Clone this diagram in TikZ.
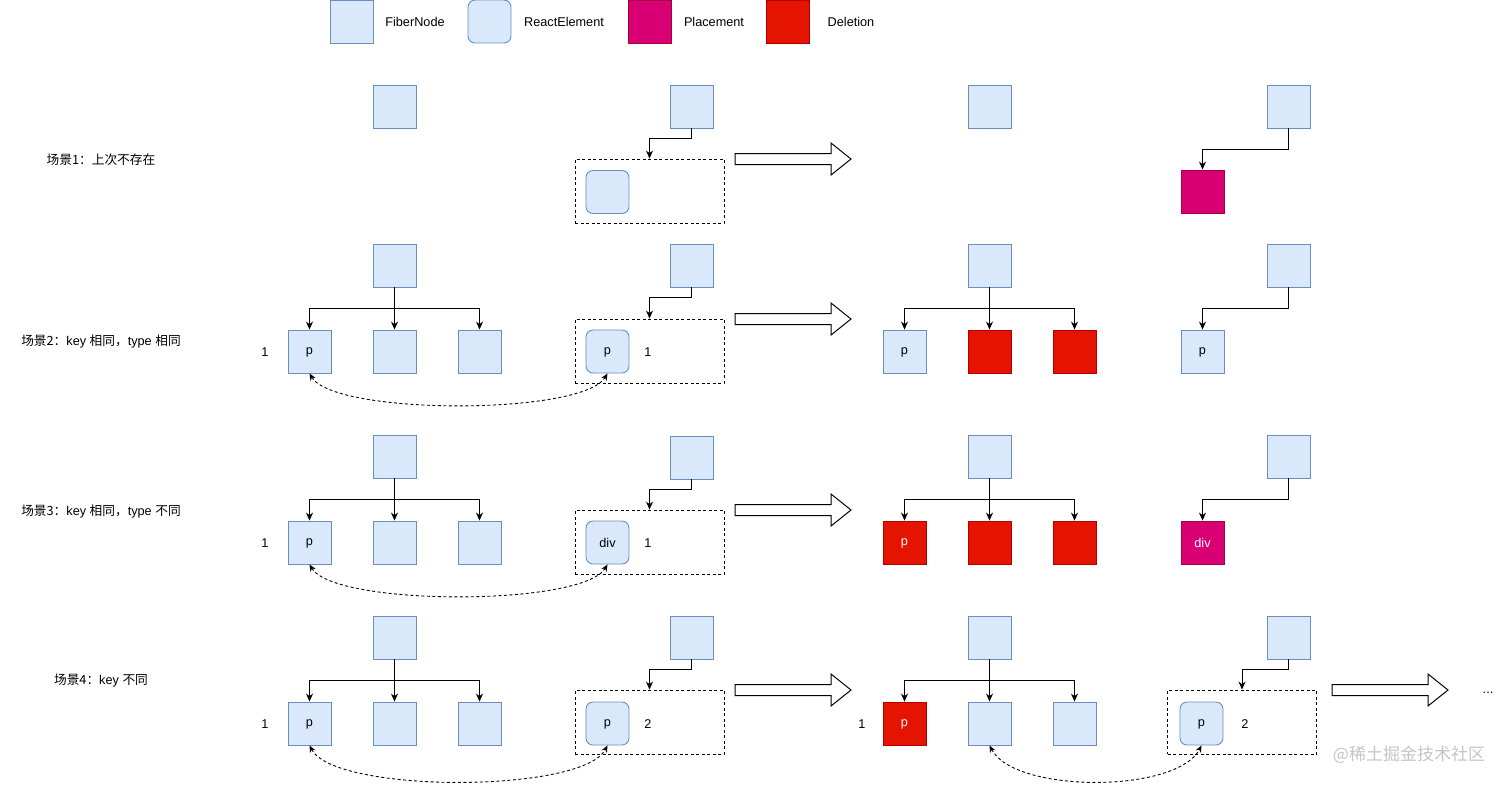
\documentclass[tikz,border=0pt]{standalone}
\usepackage{fontspec}
\setmainfont{Liberation Sans}
\newfontfamily\cjk{Noto Sans CJK SC}
\usetikzlibrary{arrows.meta}
\definecolor{fibfill}{HTML}{DAE8FC}
\definecolor{fibdraw}{HTML}{6C8EBF}
\definecolor{plfill}{HTML}{D80073}
\definecolor{pldraw}{HTML}{A50040}
\definecolor{delfill}{HTML}{E51400}
\definecolor{deldraw}{HTML}{B20000}
\definecolor{wmark}{HTML}{C4C4C4}
\tikzset{
  every node/.style={font=\fontsize{12.7}{15}\selectfont, inner sep=0pt},
  fiber/.style={draw=fibdraw, fill=fibfill, minimum width=43, minimum height=43, line width=0.9, text depth=0pt},
  relem/.style={fiber, rounded corners=7},
  place/.style={fiber, draw=pldraw, fill=plfill, text=white},
  del/.style={fiber, draw=deldraw, fill=delfill, text=white},
  dbox/.style={draw, dash pattern=on 3pt off 2.5pt, line width=0.9, minimum width=149, minimum height=64},
  conn/.style={-{Stealth[length=8,width=7]}, line width=1},
  darrow/.style={{Stealth[length=7,width=6]}-{Stealth[length=7,width=6]}, dash pattern=on 3pt off 2.5pt, line width=0.9},
  bigarrow/.style={draw, line width=1, fill=white},
  lbl/.style={anchor=center}
}
\newcommand{\bigarr}[2]{%
  \draw[bigarrow] (#1,#2-5.5) -- (#1+96,#2-5.5) -- (#1+96,#2-16) -- (#1+116,#2) -- (#1+96,#2+16) -- (#1+96,#2+5.5) -- (#1,#2+5.5) -- cycle;}
\begin{document}
\begin{tikzpicture}[x=1pt,y=-1pt]
\useasboundingbox (0,0) rectangle (1512,788);
% legend
\node[fiber] (lgf) at (351.5,21.5) {};
\node[lbl] (lgft) at (415,22) {FiberNode};
\node[relem] (lgr) at (489.5,21.5) {};
\node[lbl] (lgrt) at (564,22) {ReactElement};
\node[place] (lgp) at (649.5,21.5) {};
\node[lbl] (lgpt) at (714,22) {Placement};
\node[del] (lgd) at (787.5,21.5) {};
\node[lbl] (lgdt) at (851,22) {Deletion};

% ===== scene 1 =====
\node[lbl] (l1) at (101,160) {{\cjk 场景1：上次不存在}};
\node[fiber] (s1a) at (394.5,106.5) {};
\node[fiber] (s1b) at (691.5,106.5) {};
\node[dbox] (s1box) at (649.5,191) {};
\node[relem] (s1re) at (607.5,192) {};
\draw[conn] (s1b.south) -- ++(0,10) -| (s1box.north);
\bigarr{735}{159}
\node[fiber] (r1a) at (989.5,106.5) {};
\node[fiber] (r1b) at (1288.5,106.5) {};
\node[place] (r1c) at (1202.5,191.5) {};
\draw[conn] (r1b.south) -- ++(0,21.5) -| (r1c.north);

% ===== scene 2 =====
\node[lbl] (l2) at (101,341) {{\cjk 场景2：}key {\cjk 相同，}type {\cjk 相同}};
\node[fiber] (s2a) at (394.5,265.5) {};
\node[fiber] (s2c1) at (309.5,351.5) {p};
\node[fiber] (s2c2) at (394.5,351.5) {};
\node[fiber] (s2c3) at (479.5,351.5) {};
\node[lbl] (s2k) at (265,352) {1};
\draw[conn] (s2a.south) -- (s2c2.north);
\draw[conn] (s2a.south) -- ++(0,21.5) -| (s2c1.north);
\draw[conn] (s2a.south) -- ++(0,21.5) -| (s2c3.north);
\node[fiber] (s2b) at (691.5,265.5) {};
\node[dbox] (s2box) at (649.5,351) {};
\node[relem] (s2re) at (607.5,351.5) {p};
\node[lbl] (s2rk) at (648,352) {1};
\draw[conn] (s2b.south) -- ++(0,10) -| (s2box.north);
\draw[darrow] (s2c1.south) .. controls +(25,42) and +(-25,42) .. (s2re.south);
\bigarr{735}{319}
\node[fiber] (r2a) at (989.5,265.5) {};
\node[fiber] (r2c1) at (904.5,351.5) {p};
\node[del] (r2c2) at (989.5,351.5) {};
\node[del] (r2c3) at (1074.5,351.5) {};
\draw[conn] (r2a.south) -- (r2c2.north);
\draw[conn] (r2a.south) -- ++(0,21.5) -| (r2c1.north);
\draw[conn] (r2a.south) -- ++(0,21.5) -| (r2c3.north);
\node[fiber] (r2b) at (1288.5,265.5) {};
\node[fiber] (r2c) at (1202.5,351.5) {p};
\draw[conn] (r2b.south) -- ++(0,21.5) -| (r2c.north);

% ===== scene 3 =====
\node[lbl] (l3) at (101,511) {{\cjk 场景3：}key {\cjk 相同，}type {\cjk 不同}};
\node[fiber] (s3a) at (394.5,456.5) {};
\node[fiber] (s3c1) at (309.5,542.5) {p};
\node[fiber] (s3c2) at (394.5,542.5) {};
\node[fiber] (s3c3) at (479.5,542.5) {};
\node[lbl] (s3k) at (265,543) {1};
\draw[conn] (s3a.south) -- (s3c2.north);
\draw[conn] (s3a.south) -- ++(0,21.5) -| (s3c1.north);
\draw[conn] (s3a.south) -- ++(0,21.5) -| (s3c3.north);
\node[fiber] (s3b) at (691.5,457.5) {};
\node[dbox] (s3box) at (649.5,542) {};
\node[relem] (s3re) at (607.5,542.5) {div};
\node[lbl] (s3rk) at (648,543) {1};
\draw[conn] (s3b.south) -- ++(0,10) -| (s3box.north);
\draw[darrow] (s3c1.south) .. controls +(25,42) and +(-25,42) .. (s3re.south);
\bigarr{735}{510}
\node[fiber] (r3a) at (989.5,456.5) {};
\node[del] (r3c1) at (904.5,542.5) {p};
\node[del] (r3c2) at (989.5,542.5) {};
\node[del] (r3c3) at (1074.5,542.5) {};
\draw[conn] (r3a.south) -- (r3c2.north);
\draw[conn] (r3a.south) -- ++(0,21.5) -| (r3c1.north);
\draw[conn] (r3a.south) -- ++(0,21.5) -| (r3c3.north);
\node[fiber] (r3b) at (1288.5,456.5) {};
\node[place] (r3c) at (1202.5,542.5) {div};
\draw[conn] (r3b.south) -- ++(0,21.5) -| (r3c.north);

% ===== scene 4 =====
\node[lbl] (l4) at (101,681) {{\cjk 场景4：}key {\cjk 不同}};
\node[fiber] (s4a) at (394.5,637.5) {};
\node[fiber] (s4c1) at (309.5,723.5) {p};
\node[fiber] (s4c2) at (394.5,723.5) {};
\node[fiber] (s4c3) at (479.5,723.5) {};
\node[lbl] (s4k) at (265,724) {1};
\draw[conn] (s4a.south) -- (s4c2.north);
\draw[conn] (s4a.south) -- ++(0,21.5) -| (s4c1.north);
\draw[conn] (s4a.south) -- ++(0,21.5) -| (s4c3.north);
\node[fiber] (s4b) at (691.5,637.5) {};
\node[dbox] (s4box) at (649.5,722) {};
\node[relem] (s4re) at (607.5,723.5) {p};
\node[lbl] (s4rk) at (648,724) {2};
\draw[conn] (s4b.south) -- ++(0,10) -| (s4box.north);
\draw[darrow] (s4c1.south) .. controls +(25,48) and +(-25,48) .. (s4re.south);
\bigarr{735}{690}
\node[fiber] (r4a) at (989.5,637.5) {};
\node[del] (r4c1) at (904.5,723.5) {p};
\node[fiber] (r4c2) at (989.5,723.5) {};
\node[fiber] (r4c3) at (1074.5,723.5) {};
\node[lbl] (r4k) at (862,724) {1};
\draw[conn] (r4a.south) -- (r4c2.north);
\draw[conn] (r4a.south) -- ++(0,21.5) -| (r4c1.north);
\draw[conn] (r4a.south) -- ++(0,21.5) -| (r4c3.north);
\node[fiber] (r4b) at (1288.5,637.5) {};
\node[dbox] (r4box) at (1242,722) {};
\node[relem] (r4re) at (1201.5,723.5) {p};
\node[lbl] (r4rk) at (1245,724) {2};
\draw[conn] (r4b.south) -- ++(0,10) -| (r4box.north);
\draw[darrow] (r4c2.south) .. controls +(25,48) and +(-25,48) .. (r4re.south);
\bigarr{1332}{690}
\node[lbl] (dots) at (1488,693) {...};

% watermark
\node[lbl, text=wmark, font=\cjk\fontsize{17}{20}\selectfont] (wm) at (1409,755) {@稀土掘金技术社区};
\end{tikzpicture}
\end{document}
